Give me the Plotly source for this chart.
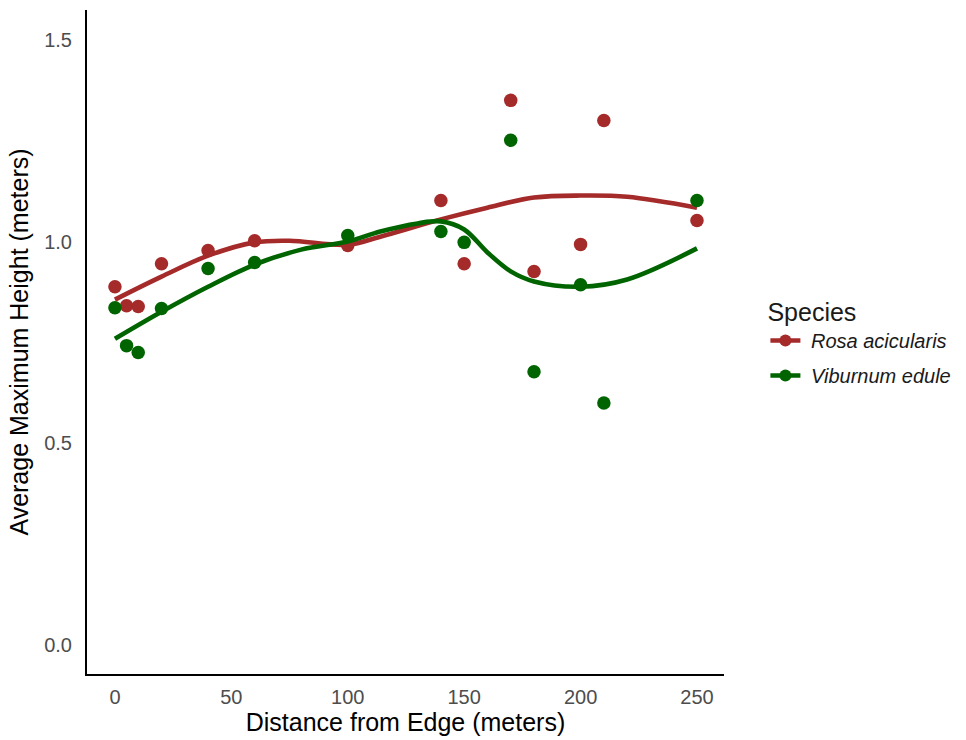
import plotly.graph_objects as go

distance = [0, 5, 10, 20, 40, 60, 100, 140, 150, 170, 180, 200, 210, 250]
rosa_height = [0.888, 0.841, 0.839, 0.945, 0.978, 1.002, 0.990, 1.102, 0.945, 1.350, 0.926, 0.993, 1.300, 1.052]
viburnum_height = [0.836, 0.742, 0.725, 0.834, 0.933, 0.948, 1.015, 1.025, 0.998, 1.251, 0.677, 0.893, 0.600, 1.102]

# smoothed trend lines
rosa_smooth_x = [0, 20, 40, 60, 75, 100, 114, 140, 160, 180, 200, 220, 250]
rosa_smooth_y = [0.856, 0.913, 0.965, 0.998, 1.002, 0.992, 1.012, 1.055, 1.084, 1.109, 1.114, 1.111, 1.084]
vib_smooth_x = [0, 20, 40, 60, 80, 100, 114, 130, 140, 150, 160, 170, 180, 200, 220, 250]
vib_smooth_y = [0.759, 0.826, 0.888, 0.943, 0.980, 1.000, 1.025, 1.045, 1.050, 1.030, 0.973, 0.926, 0.901, 0.888, 0.906, 0.983]

species = ["Rosa acicularis", "Viburnum edule"]
colors = ["#A52A2A", "#006400"]

fig = go.Figure()
for name, col, ys, sx, sy in [
    (species[0], colors[0], rosa_height, rosa_smooth_x, rosa_smooth_y),
    (species[1], colors[1], viburnum_height, vib_smooth_x, vib_smooth_y),
]:
    fig.add_trace(go.Scatter(x=sx, y=sy, mode="lines", line=dict(color=col, width=4.6, shape="spline", smoothing=1.0),
                             showlegend=False, legendgroup=name, hoverinfo="skip"))
    fig.add_trace(go.Scatter(x=distance, y=ys, mode="markers", marker=dict(color=col, size=13.5),
                             showlegend=False, legendgroup=name))
    # legend entry
    fig.add_trace(go.Scatter(x=[None], y=[None], mode="lines+markers", name=f"\u00a0<i>{name}</i>",
                             line=dict(color=col, width=4.6), marker=dict(color=col, size=12),
                             legendgroup=name))

font_family = "Liberation Sans, Arial, sans-serif"
fig.update_layout(
    width=966, height=740,
    margin=dict(l=87, r=242, t=10, b=66),
    plot_bgcolor="white", paper_bgcolor="white",
    font=dict(family=font_family, color="black"),
    xaxis=dict(range=[-12, 261.6], tickvals=[0, 50, 100, 150, 200, 250], showgrid=False, zeroline=False,
               showline=True, linecolor="black", linewidth=2, ticks="", ticklabelstandoff=4,
               tickfont=dict(size=20, color="#4d4d4d"),
               title=dict(text="Distance from Edge (meters)", font=dict(size=25, color="black"), standoff=4)),
    yaxis=dict(range=[-0.072, 1.574], tickvals=[0, 0.5, 1.0, 1.5], ticktext=["0.0", "0.5", "1.0", "1.5"],
               showgrid=False, zeroline=False, showline=True, linecolor="black", linewidth=2, ticks="",
               ticklabelstandoff=9, tickfont=dict(size=20, color="#4d4d4d"),
               title=dict(text="Average Maximum Height (meters)", font=dict(size=25, color="black"), standoff=8)),
    legend=dict(x=1.065, y=0.5, xanchor="left", yanchor="middle",
                title=dict(text="Species", font=dict(size=25)), font=dict(size=20, color="#1a1a1a"),
                bgcolor="rgba(0,0,0,0)", tracegroupgap=6),
)

fig.write_html("out.html")
